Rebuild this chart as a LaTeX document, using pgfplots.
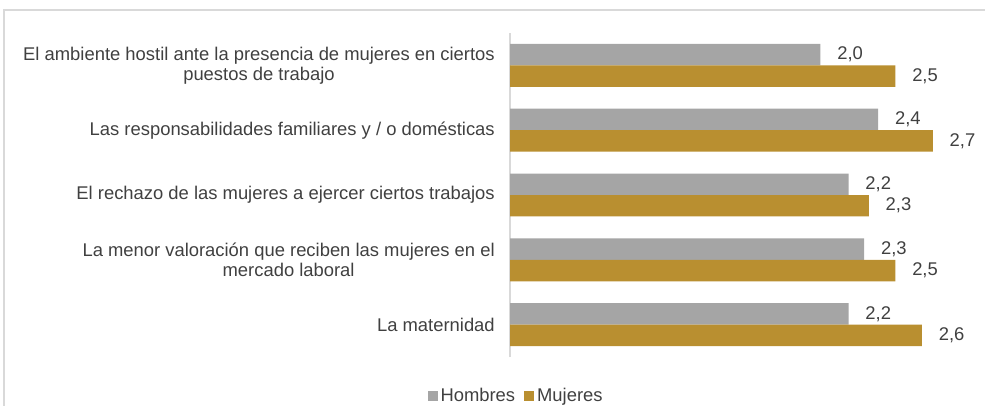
\documentclass[border=0pt]{standalone}
\usepackage{pgfplots}
\pgfplotsset{compat=1.18}
\usepackage{fontspec}
\setmainfont{Liberation Sans}
\definecolor{cgray}{HTML}{A5A5A5}
\definecolor{cgold}{HTML}{B98F30}
\definecolor{ctext}{HTML}{404040}
\definecolor{cframe}{HTML}{D9D9D9}
\begin{document}
\begin{tikzpicture}[x=0.75pt,y=0.75pt]
\useasboundingbox (0,0) rectangle (985,405);
\draw[cframe, line width=1.3pt] (4,-5) -- (4,395) -- (990,395);
\begin{axis}[
  at={(382.5pt,36pt)}, anchor=south west,
  scale only axis, width=351pt, height=243pt,
  xmin=0, xmax=3, ymin=-0.5, ymax=4.5,
  xbar, bar width=16.1pt,
  hide x axis,
  axis y line*=left,
  y axis line style={draw=cframe, line width=1.1pt},
  ytick={0,1,2,3,4},
  yticklabels={{La maternidad},{La menor valoración que reciben las mujeres en el\\mercado laboral},{El rechazo de las mujeres a ejercer ciertos trabajos},{Las responsabilidades familiares y / o domésticas},{El ambiente hostil ante la presencia de mujeres en ciertos\\puestos de trabajo}},
  yticklabel style={align=center, font=\fontsize{13.8pt}{15pt}\selectfont, text=ctext, inner sep=0pt, xshift=-11.25pt},
  major tick length=0pt,
  clip=false,
  /pgf/number format/assume math mode=true,
  nodes near coords={\pgfmathprintnumber[fixed,fixed zerofill,precision=1,use comma]{\pgfplotspointmeta}},
  every node near coord/.append style={font=\fontsize{13.8pt}{15pt}\selectfont, text=ctext, anchor=west, inner sep=0pt, xshift=12.5pt},
  legend columns=2,
  legend style={at={(axis description cs:0.014,-0.12)}, anchor=center, draw=none, fill=none, font=\fontsize{13.8pt}{15pt}\selectfont, text=ctext, inner sep=0pt, nodes={inner sep=2pt}, /tikz/every even column/.append style={column sep=5pt}},
  legend image code/.code={\fill[#1] (0pt,-3.75pt) rectangle (7.5pt,3.75pt);},
]
\addplot[fill=cgray, draw=none, bar shift=8.05pt] coordinates {(1.99,4) (2.36,3) (2.17,2) (2.27,1) (2.17,0)};
\addlegendentry{Hombres}
\addplot[fill=cgold, draw=none, bar shift=-8.05pt] coordinates {(2.47,4) (2.71,3) (2.30,2) (2.47,1) (2.64,0)};
\addlegendentry{Mujeres}
\end{axis}
\end{tikzpicture}
\end{document}
